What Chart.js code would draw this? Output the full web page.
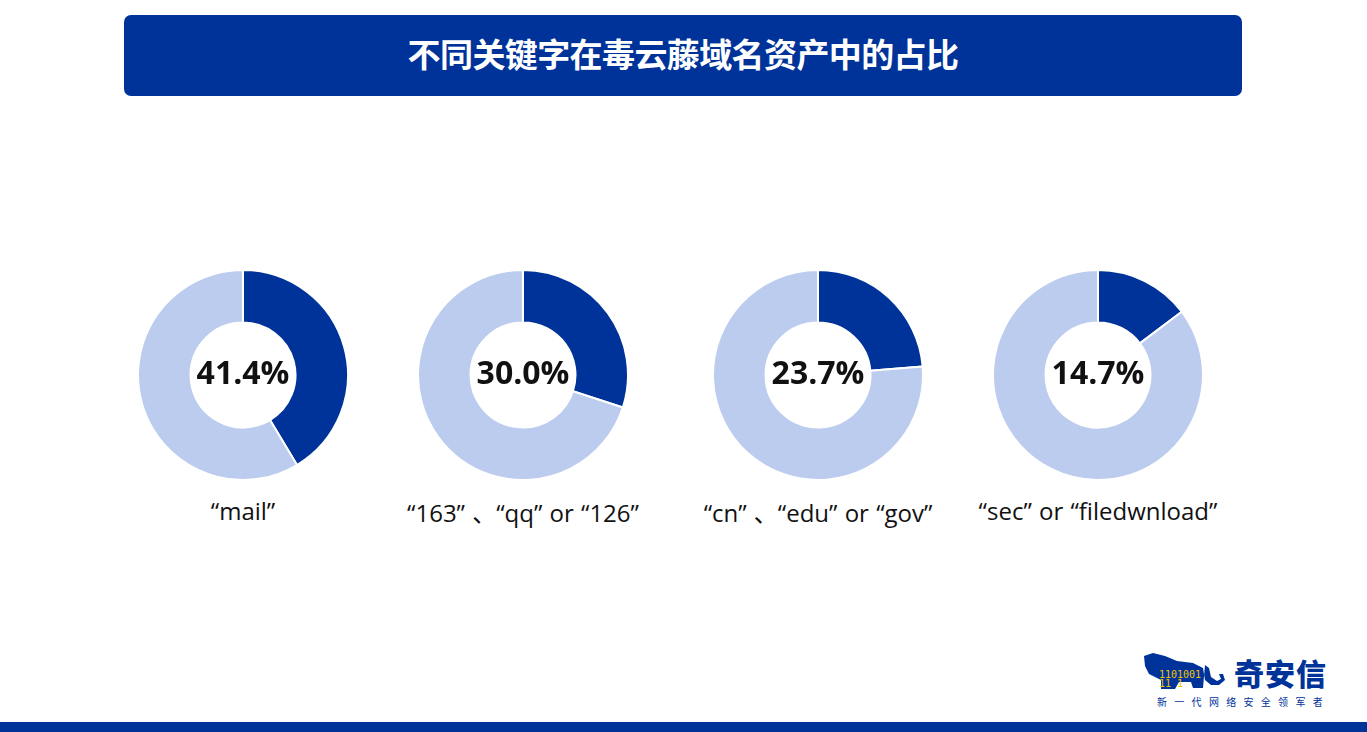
<!DOCTYPE html>
<html>
<head>
<meta charset="utf-8">
<script src="https://cdn.jsdelivr.net/npm/chart.js@4.4.1/dist/chart.umd.min.js"></script>
<style>
  html, body { margin: 0; padding: 0; background: #fff; }
  body { width: 1367px; height: 732px; position: relative; overflow: hidden; font-family: "Open Sans", "Noto Sans", sans-serif; }
  .banner { position: absolute; left: 124px; top: 15px; width: 1118px; height: 81px; background: #003399; border-radius: 7px;
    color: #fff; font-family: "Noto Sans CJK SC", sans-serif; font-weight: 700; font-size: 33px; text-align: center; line-height: 76px; letter-spacing: -0.6px; }
  .donut { position: absolute; width: 212px; height: 212px; }
  .label { position: absolute; width: 360px; text-align: center; top: 494px; font-size: 24px; color: #111; font-family: "Open Sans", "Noto Sans CJK SC", sans-serif; word-spacing: 1px; }
  .bottom { position: absolute; left: 0; top: 722px; width: 1367px; height: 10px; background: #003399; }
  .logo { position: absolute; left: 1143px; top: 652px; width: 200px; height: 60px; }
  .logo .name { position: absolute; left: 91px; top: 2px; font-family: "Noto Sans CJK SC", sans-serif; font-weight: 900; font-size: 30px; line-height: 36px; color: #003399; letter-spacing: 1px; }
  .logo .tag { position: absolute; left: 14px; top: 42px; font-family: "Noto Sans CJK SC", sans-serif; font-size: 10px; color: #003399; letter-spacing: 7.3px; white-space: nowrap; }
</style>
</head>
<body>
<div class="banner">不同关键字在毒云藤域名资产中的占比</div>

<canvas id="d0" class="donut"></canvas>
<canvas id="d1" class="donut"></canvas>
<canvas id="d2" class="donut"></canvas>
<canvas id="d3" class="donut"></canvas>

<div id="l0" class="label"></div>
<div id="l1" class="label"></div>
<div id="l2" class="label"></div>
<div id="l3" class="label"></div>

<div class="logo">
  <svg width="92" height="40" viewBox="0 0 92 40" style="position:absolute;left:0;top:0">
    <path d="M1 4 L10 1 L22 4 L34 9 L50 11 L60 16 L62 28 L68 33 L76 33 L82 28 L80 22 L76 22 L78 27 L74 29 L68 25 L66 16 L62 13 L60 36 L50 36 L48 30 L36 30 L32 37 L18 37 L18 28 L6 22 L2 14 Z" fill="#003399"/>
    <text x="16" y="26" font-size="10" font-family="DejaVu Sans Mono" fill="#f2c200">1101001</text>
    <text x="16" y="35" font-size="10" font-family="DejaVu Sans Mono" fill="#f2c200">11 1</text>
  </svg>
  <div class="name">奇安信</div>
  <div class="tag">新一代网络安全领军者</div>
</div>

<div class="bottom"></div>

<script>
const categories = ['“mail”', '“163” 、“qq” or “126”', '“cn” 、“edu” or “gov”', '“sec” or “filedwnload”'];
const shares = [41.4, 30.0, 23.7, 14.7];
const centersX = [243, 523, 818, 1098];
const centerY = 375;

const dark = '#003399';
const light = '#BCCCEE';

const centerText = {
  id: 'centerText',
  afterDraw(chart) {
    const { ctx, chartArea } = chart;
    const x = (chartArea.left + chartArea.right) / 2;
    const y = (chartArea.top + chartArea.bottom) / 2;
    ctx.save();
    ctx.font = 'bold 32px "Open Sans", sans-serif';
    ctx.fillStyle = '#111';
    ctx.textAlign = 'center';
    ctx.textBaseline = 'middle';
    ctx.fillText(chart.options.plugins.centerText.text, x, y);
    ctx.restore();
  }
};

shares.forEach((v, i) => {
  const canvas = document.getElementById('d' + i);
  canvas.style.left = (centersX[i] - 106) + 'px';
  canvas.style.top = (centerY - 106) + 'px';
  canvas.width = 212;
  canvas.height = 212;

  const label = document.getElementById('l' + i);
  label.textContent = categories[i];
  label.style.left = (centersX[i] - 180) + 'px';

  new Chart(canvas, {
    type: 'doughnut',
    data: {
      labels: ['share', 'other'],
      datasets: [{
        data: [v, 100 - v],
        backgroundColor: [dark, light],
        borderColor: '#fff',
        borderWidth: 2,
        hoverOffset: 0,
      }],
    },
    options: {
      responsive: false,
      animation: false,
      cutout: '50%',
      layout: { padding: 0 },
      plugins: {
        legend: { display: false },
        tooltip: { enabled: false },
        centerText: { text: v.toFixed(1) + '%' },
      },
    },
    plugins: [centerText],
  });
});
</script>
</body>
</html>
